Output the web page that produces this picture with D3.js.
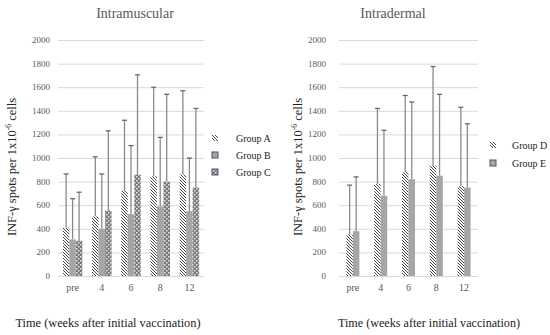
<!DOCTYPE html>
<html>
<head>
<meta charset="utf-8">
<script src="https://cdn.jsdelivr.net/npm/d3@7"></script>
<style>
  body { margin: 0; background: #fff; }
</style>
</head>
<body>
<script>
(function(){
    // categories and tick labels
    var weeks = ["pre", "4", "6", "8", "12"];
    var yTicks = [0, 200, 400, 600, 800, 1000, 1200, 1400, 1600, 1800, 2000];

    // intramuscular: means and upper error values
    var groupA = [410, 505, 720, 845, 860];
    var groupAErr = [865, 1010, 1320, 1600, 1570];
    var groupB = [310, 400, 525, 590, 550];
    var groupBErr = [655, 865, 1105, 1175, 1000];
    var groupC = [300, 555, 860, 800, 750];
    var groupCErr = [710, 1230, 1705, 1540, 1420];

    // intradermal
    var groupD = [350, 780, 880, 935, 760];
    var groupDErr = [770, 1420, 1530, 1775, 1430];
    var groupE = [380, 680, 820, 850, 750];
    var groupEErr = [840, 1235, 1475, 1540, 1290];

    var serif = "'Liberation Serif', 'Times New Roman', 'DejaVu Serif', serif";

    var svg = d3.select("body").append("svg")
        .attr("width", 550).attr("height", 335)
        .attr("font-family", serif)
        .style("font-family", serif);

    var defs = svg.append("defs");

    // diagonal hatch
    var hatch = defs.append("pattern").attr("id", "hatch")
        .attr("patternUnits", "userSpaceOnUse")
        .attr("width", 3).attr("height", 3);
    hatch.append("rect").attr("width", 3).attr("height", 3).attr("fill", "#fff");
    hatch.append("path").attr("d", "M-1 -1 L4 4 M-1 2 L1 4 M2 -1 L4 1")
        .attr("stroke", "#444").attr("stroke-width", 1);

    // checker / dotted
    var dots = defs.append("pattern").attr("id", "dots")
        .attr("patternUnits", "userSpaceOnUse")
        .attr("width", 4).attr("height", 4);
    dots.append("rect").attr("width", 4).attr("height", 4).attr("fill", "#7a7a7a");
    dots.append("rect").attr("x", 0).attr("y", 0).attr("width", 1.5).attr("height", 1.5).attr("fill", "#e8e8e8");
    dots.append("rect").attr("x", 2).attr("y", 2).attr("width", 1.5).attr("height", 1.5).attr("fill", "#e8e8e8");

    function panel(opt) {
        var g = svg.append("g");
        var y = d3.scaleLinear().domain([0, 2000]).range([276, 40]);
        var x = d3.scalePoint().domain(weeks).range(opt.xRange).padding(0.5);
        var bw = 6.5;

        // gridlines
        g.selectAll("line.grid").data(yTicks).enter()
            .append("line").attr("class", "grid")
            .attr("x1", opt.xRange[0]).attr("x2", opt.xRange[1])
            .attr("y1", function(d) { return y(d) + 0.5; })
            .attr("y2", function(d) { return y(d) + 0.5; })
            .attr("stroke", "#d9d9d9").attr("stroke-width", 1);

        // y tick labels
        g.selectAll("text.ytick").data(yTicks).enter()
            .append("text").attr("class", "ytick")
            .attr("x", opt.labelX).attr("y", function(d) { return y(d) + 3; })
            .attr("text-anchor", "end").attr("font-size", 9).attr("fill", "#595959")
            .text(function(d) { return d; });

        // x tick labels
        g.selectAll("text.xtick").data(weeks).enter()
            .append("text").attr("class", "xtick")
            .attr("x", function(d) { return x(d); }).attr("y", 291)
            .attr("text-anchor", "middle").attr("font-size", 10).attr("fill", "#595959")
            .text(function(d) { return d; });

        var n = opt.series.length;
        opt.series.forEach(function(s, si) {
            var off = (si - n / 2) * bw;
            var sg = g.append("g");
            sg.selectAll("line.err").data(s.values).enter()
                .append("line")
                .attr("x1", function(d, i) { return x(weeks[i]) + off + bw / 2; })
                .attr("x2", function(d, i) { return x(weeks[i]) + off + bw / 2; })
                .attr("y1", function(d) { return y(d); })
                .attr("y2", function(d, i) { return y(s.err[i]); })
                .attr("stroke", "#8a8a8a").attr("stroke-width", 1.3);
            sg.selectAll("line.cap").data(s.err).enter()
                .append("line")
                .attr("x1", function(d, i) { return x(weeks[i]) + off + bw / 2 - 2.5; })
                .attr("x2", function(d, i) { return x(weeks[i]) + off + bw / 2 + 2.5; })
                .attr("y1", function(d) { return y(d); })
                .attr("y2", function(d) { return y(d); })
                .attr("stroke", "#6a6a6a").attr("stroke-width", 1.3);
            sg.selectAll("rect").data(s.values).enter()
                .append("rect")
                .attr("x", function(d, i) { return x(weeks[i]) + off; })
                .attr("y", function(d) { return y(d); })
                .attr("width", bw)
                .attr("height", function(d) { return y(0) - y(d); })
                .attr("fill", s.fill);
        });

        // baseline
        g.append("line")
            .attr("x1", opt.xRange[0]).attr("x2", opt.xRange[1])
            .attr("y1", 276.5).attr("y2", 276.5)
            .attr("stroke", "#d9d9d9");

        // title
        g.append("text").attr("x", opt.titleX).attr("y", 18)
            .attr("text-anchor", "middle").attr("font-size", 14).attr("fill", "#595959")
            .text(opt.title);

        // y axis title
        var yt = g.append("text")
            .attr("transform", "translate(" + opt.yTitleX + ",167) rotate(-90)")
            .attr("text-anchor", "middle").attr("font-size", 12.5).attr("fill", "#222");
        yt.append("tspan").text("INF-\u03b3 spots per 1x10");
        yt.append("tspan").attr("dy", -5).attr("font-size", 7.5).text("-6");
        yt.append("tspan").attr("dy", 5).text(" cells");

        // x axis title
        g.append("text").attr("x", opt.xTitleX).attr("y", 327)
            .attr("text-anchor", "middle").attr("font-size", 13).attr("fill", "#222")
            .attr("textLength", opt.xTitleW).attr("lengthAdjust", "spacingAndGlyphs")
            .text("Time (weeks after initial vaccination)");

        // legend
        var lg = g.selectAll("g.leg").data(opt.series).enter()
            .append("g").attr("class", "leg")
            .attr("transform", function(d, i) {
                return "translate(" + opt.legX + "," + (opt.legY + i * opt.legStep) + ")";
            });
        lg.append("rect").attr("x", -3).attr("y", -3).attr("width", 6).attr("height", 6)
            .attr("fill", function(d) { return d.fill; })
            .attr("stroke", function(d) { return d.border ? "#44546a" : "none"; })
            .attr("stroke-width", 1);
        lg.append("text").attr("x", opt.legTextDx).attr("y", 3.5)
            .attr("font-size", 10).attr("fill", "#222")
            .text(function(d) { return d.name; });
    }

    panel({
        xRange: [58, 204], labelX: 50, title: "Intramuscular", titleX: 135,
        yTitleX: 16, xTitleX: 108, xTitleW: 185,
        legX: 215, legY: 138, legStep: 17, legTextDx: 21,
        series: [
            { name: "Group A", values: groupA, err: groupAErr, fill: "url(#hatch)" },
            { name: "Group B", values: groupB, err: groupBErr, fill: "#a6a6a6", border: true },
            { name: "Group C", values: groupC, err: groupCErr, fill: "url(#dots)", border: true }
        ]
    });

    panel({
        xRange: [339, 478], labelX: 326, title: "Intradermal", titleX: 393,
        yTitleX: 302, xTitleX: 429, xTitleW: 182,
        legX: 493, legY: 145, legStep: 18, legTextDx: 19,
        series: [
            { name: "Group D", values: groupD, err: groupDErr, fill: "url(#hatch)" },
            { name: "Group E", values: groupE, err: groupEErr, fill: "#a6a6a6", border: true }
        ]
    });
})();
</script>
</body>
</html>
